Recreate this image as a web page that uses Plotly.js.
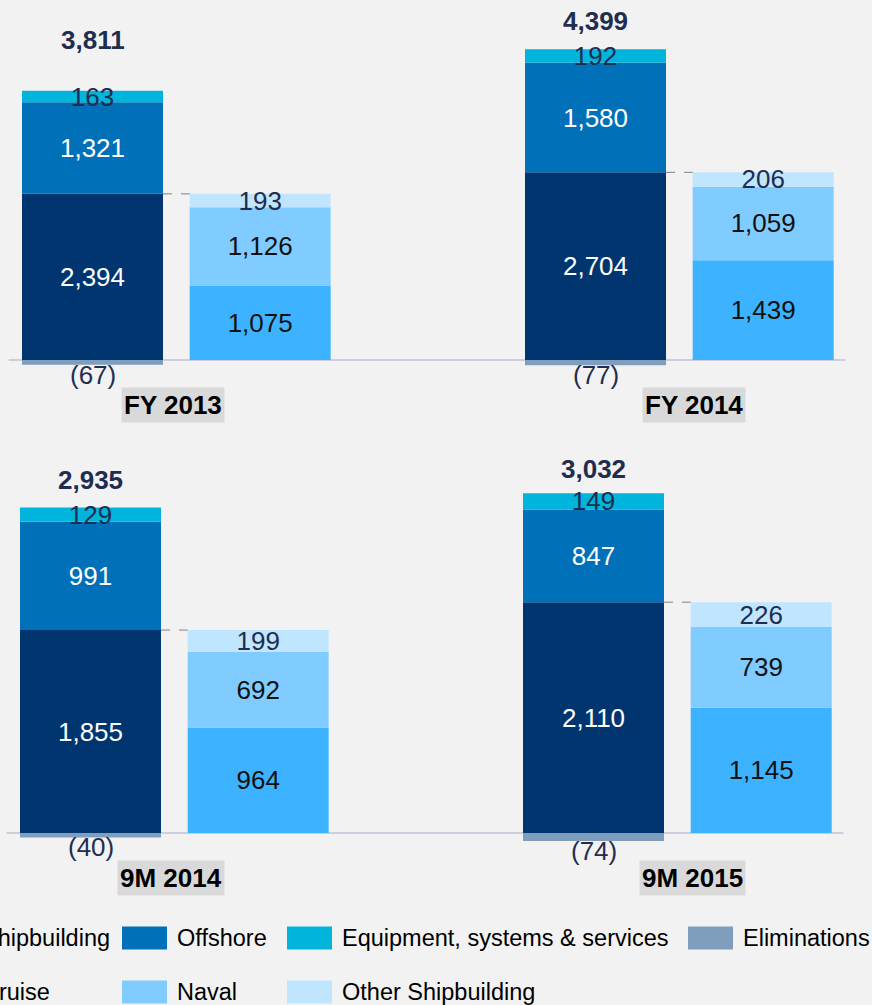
<!DOCTYPE html>
<html>
<head>
<meta charset="utf-8">
<script src="https://cdn.plot.ly/plotly-3.0.1.min.js"></script>
<style>
  html, body { margin: 0; padding: 0; background: #f2f2f2; }
  #chart { width: 872px; height: 1005px; }
</style>
</head>
<body>
<div id="chart"></div>
<script>
// Periods (first two in the top panel, last two in the bottom panel)
var periods = ['FY 2013', 'FY 2014', '9M 2014', '9M 2015'];

// Revenues by segment (EUR m)
var shipbuilding = [2394, 2704, 1855, 2110];
var offshore     = [1321, 1580, 991, 847];
var equipment    = [163, 192, 129, 149];
var eliminations = [-67, -77, -40, -74];

// Shipbuilding split
var cruise    = [1075, 1439, 964, 1145];
var naval     = [1126, 1059, 692, 739];
var otherShip = [193, 206, 199, 226];

var W = 872, H = 1005;
var FONT = 'Liberation Sans, Arial, sans-serif';
var NAVY_TEXT = '#1f2d50';

var mainSeries = [
  {name: 'Shipbuilding', values: shipbuilding, color: '#003570', text: '#ffffff'},
  {name: 'Offshore', values: offshore, color: '#0070b8', text: '#ffffff'},
  {name: 'Equipment, systems & services', values: equipment, color: '#00b4dc', text: NAVY_TEXT},
  {name: 'Eliminations', values: eliminations, color: '#7f9dbd', text: NAVY_TEXT}
];
var splitSeries = [
  {name: 'Cruise', values: cruise, color: '#3db3ff', text: '#111111'},
  {name: 'Naval', values: naval, color: '#80cbff', text: '#111111'},
  {name: 'Other Shipbuilding', values: otherShip, color: '#c0e6ff', text: NAVY_TEXT}
];

// pixel geometry of the two panels
var UNIT = 167.67;            // px between a main bar and its split bar
var BAR_W = 141 / UNIT;
var panels = [
  {idx: [0, 1], xa: 'x',  ya: 'y',  top: 0,   bottom: 400, base: 360, ppu: 0.0694, mainPx: 92.5, lift: [51, 28]},
  {idx: [2, 3], xa: 'x2', ya: 'y2', top: 440, bottom: 880, base: 833, ppu: 0.1094, mainPx: 90.5, lift: [28, 24]}
];

function fmt(v) {
  var s = Math.abs(v).toLocaleString('en-US');
  return v < 0 ? '(' + s + ')' : s;
}

var data = [];
var shapes = [];
var annotations = [];
var layout = {
  width: W,
  height: H,
  paper_bgcolor: '#f2f2f2',
  plot_bgcolor: '#f2f2f2',
  margin: {l: 0, r: 0, t: 0, b: 0, autoexpand: false},
  barmode: 'relative',
  showlegend: false,
  font: {family: FONT, size: 26, color: NAVY_TEXT}
};

panels.forEach(function(p, pi) {
  var xs = p.idx.map(function(_, k) { return 3 * k; });
  function addSeries(list, offset) {
    list.forEach(function(s) {
      var vals = p.idx.map(function(i) { return s.values[i]; });
      var negative = vals[0] < 0;
      data.push({
        type: 'bar',
        name: s.name,
        x: xs.map(function(x) { return x + offset; }),
        y: vals,
        width: BAR_W,
        xaxis: p.xa,
        yaxis: p.ya,
        marker: {color: s.color},
        text: vals.map(fmt),
        textposition: negative ? 'none' : 'inside',
        insidetextanchor: 'middle',
        textangle: 0,
        constraintext: 'none',
        cliponaxis: false,
        textfont: {family: FONT, size: 26, color: s.text},
        hoverinfo: 'skip'
      });
      // negative values are labelled just under the bar
      if (negative) {
        vals.forEach(function(v, k) {
          annotations.push({
            xref: p.xa, yref: p.ya, x: xs[k] + offset, y: v, yshift: -10,
            yanchor: 'middle', showarrow: false, text: fmt(v),
            font: {family: FONT, size: 26, color: s.text}
          });
        });
      }
    });
  }
  addSeries(mainSeries, 0);
  addSeries(splitSeries, 1);

  var axSuffix = pi === 0 ? '' : '2';
  layout['xaxis' + axSuffix] = {
    range: [-p.mainPx / UNIT, (W - p.mainPx) / UNIT],
    anchor: p.ya, visible: false, fixedrange: true
  };
  layout['yaxis' + axSuffix] = {
    range: [-(p.bottom - p.base) / p.ppu, (p.base - p.top) / p.ppu],
    domain: [1 - p.bottom / H, 1 - p.top / H],
    anchor: p.xa, visible: false, fixedrange: true
  };

  // baseline
  shapes.push({
    type: 'line', xref: p.xa, yref: p.ya, x0: -0.5, x1: 4.49, y0: 0, y1: 0,
    line: {color: '#bcc3d3', width: 1.5}, layer: 'below'
  });

  p.idx.forEach(function(i, k) {
    var posTop = shipbuilding[i] + offshore[i] + equipment[i];
    var net = posTop + eliminations[i];
    // total on top of the main bar
    annotations.push({
      xref: p.xa, yref: p.ya, x: 3 * k, y: posTop, yshift: p.lift[k],
      yanchor: 'middle', showarrow: false,
      text: '<b>' + fmt(net) + '</b>',
      font: {family: FONT, size: 26, color: NAVY_TEXT}
    });
    // dashed connector from shipbuilding to its split
    shapes.push({
      type: 'line', xref: p.xa, yref: p.ya,
      x0: 3 * k + BAR_W / 2, x1: 3 * k + 1 - BAR_W / 2,
      y0: shipbuilding[i], y1: shipbuilding[i],
      line: {color: '#808080', width: 1, dash: 'dash'}
    });
    // period label
    annotations.push({
      xref: p.xa, yref: p.ya, x: 3 * k + 0.5, y: 0, yshift: -45,
      xshift: k === 0 ? -3 : 15,
      yanchor: 'middle', showarrow: false,
      text: '<b>' + periods[i] + '</b>',
      bgcolor: '#d9d9d9', borderpad: 2,
      font: {family: FONT, size: 26, color: '#000000'}
    });
  });
});

// legend drawn as swatches + labels (cut at the left edge as in the slide)
var colLeft = [-73, 122, 287, 688];
var rowMid = [938, 992];
[mainSeries, splitSeries].forEach(function(row, r) {
  row.forEach(function(s, c) {
    var x0 = colLeft[c];
    shapes.push({
      type: 'rect', xref: 'paper', yref: 'paper',
      x0: x0 / W, x1: (x0 + 45) / W,
      y0: 1 - (rowMid[r] + 11.5) / H, y1: 1 - (rowMid[r] - 11.5) / H,
      fillcolor: s.color, line: {width: 0}
    });
    annotations.push({
      xref: 'paper', yref: 'paper', x: (x0 + 53) / W, y: 1 - rowMid[r] / H,
      xanchor: 'left', yanchor: 'middle', showarrow: false,
      text: s.name,
      font: {family: FONT, size: 23.5, color: '#000000'}
    });
  });
});

layout.shapes = shapes;
layout.annotations = annotations;

Plotly.newPlot('chart', data, layout, {staticPlot: true, displayModeBar: false});
</script>
</body>
</html>
